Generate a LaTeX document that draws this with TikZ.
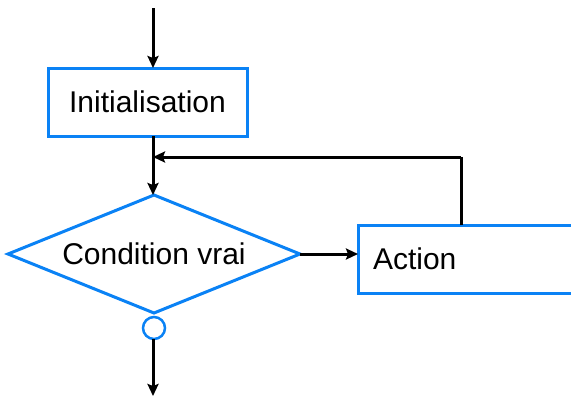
\documentclass[tikz,border=0pt]{standalone}
\usepackage{fontspec}
\setmainfont{Liberation Sans}
\usetikzlibrary{shapes.geometric,arrows.meta,calc}
\definecolor{boxblue}{RGB}{10,130,245}
\begin{document}
\begin{tikzpicture}[x=1pt,y=-1pt,
  every node/.style={font=\fontsize{30}{36}\selectfont, outer sep=0pt},
  box/.style={draw=boxblue, line width=3pt, fill=white, rectangle},
  cond/.style={draw=boxblue, line width=3pt, fill=white, shape=diamond, aspect=2.475, minimum width=292pt, minimum height=118pt, inner sep=0pt},
  joint/.style={draw=boxblue, line width=2.5pt, fill=white, circle, minimum size=22pt, inner sep=0pt},
  flow/.style={line width=3pt, -{Stealth[length=12pt,width=11pt,inset=2pt]}},
  plain/.style={line width=3pt}]
\useasboundingbox (0,0) rectangle (571,397);
\clip (0,0) rectangle (571,397);
\node[box, minimum width=199pt, minimum height=68pt] (init) at (147.5,102) {Initialisation};
\node[cond] (dia) at (154,254) {Condition vrai};
\node[box, anchor=west, minimum height=68pt, text width=232pt, inner xsep=15pt, align=left] (act) at (358,259) {Action};
\node[joint] (j) at (154,328) {};
\coordinate (start) at (153,8);
\coordinate (fin) at (153,396);
\coordinate (up) at (461,157);
\coordinate (mid) at (153,157);
\draw[flow] (start) -- (start |- init.north);
\draw[plain] (init.south -| start) -- (mid);
\draw[flow] (mid) -- (dia.north -| start);
\draw[plain] (act.north -| up) -- (up);
\draw[flow] (up) -- (mid);
\draw[flow] (dia.east) -- (dia.east -| act.west);
\draw[flow] (j.south -| start) -- (fin);
\end{tikzpicture}
\end{document}
